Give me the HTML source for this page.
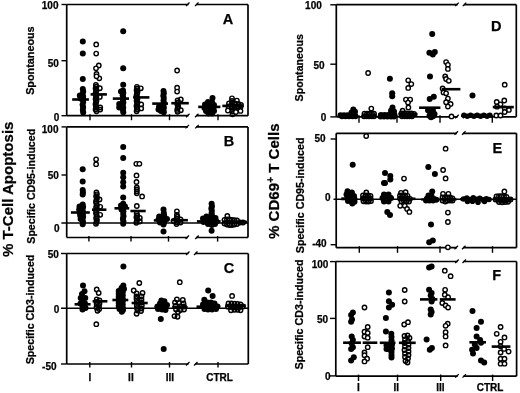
<!DOCTYPE html>
<html><head><meta charset="utf-8"><style>
html,body{margin:0;padding:0;background:#fff;}
svg{display:block;filter:grayscale(1) blur(0.3px);}
text{font-family:"Liberation Sans",sans-serif;fill:#000;stroke:#000;stroke-width:0.25px;}
</style></head><body>
<svg width="520" height="393" viewBox="0 0 520 393">
<rect width="520" height="393" fill="#fff"/>
<g stroke="#000" stroke-linecap="butt">
<line x1="66.7" y1="4.5" x2="66.7" y2="115.7" stroke-width="1.7"/>
<line x1="66.7" y1="4.5" x2="188.5" y2="4.5" stroke-width="1.7"/>
<line x1="196.0" y1="4.5" x2="248.0" y2="4.5" stroke-width="1.7"/>
<line x1="248.0" y1="4.5" x2="248.0" y2="115.7" stroke-width="1.7"/>
<line x1="66.7" y1="115.7" x2="188.5" y2="115.7" stroke-width="1.7"/>
<line x1="196.0" y1="115.7" x2="248.0" y2="115.7" stroke-width="1.7"/>
<line x1="186.0" y1="6.0" x2="189.5" y2="2.5" stroke-width="1.3"/>
<line x1="195.0" y1="6.0" x2="198.5" y2="2.5" stroke-width="1.3"/>
<line x1="186.0" y1="117.2" x2="189.5" y2="113.7" stroke-width="1.3"/>
<line x1="195.0" y1="117.2" x2="198.5" y2="113.7" stroke-width="1.3"/>
<line x1="61.5" y1="4.5" x2="66.7" y2="4.5" stroke-width="1.4"/>
<line x1="61.5" y1="60.7" x2="66.7" y2="60.7" stroke-width="1.4"/>
<line x1="61.5" y1="115.7" x2="66.7" y2="115.7" stroke-width="1.4"/>
<text x="58.5" y="9.3" font-size="10" font-weight="bold" text-anchor="end" >100</text>
<text x="58.8" y="66.5" font-size="10" font-weight="bold" text-anchor="end" >50</text>
<text x="59.2" y="120.5" font-size="10" font-weight="bold" text-anchor="end" >0</text>
<line x1="90" y1="114.2" x2="90" y2="120.2" stroke-width="1.4"/>
<line x1="131.5" y1="114.2" x2="131.5" y2="120.2" stroke-width="1.4"/>
<line x1="169.5" y1="114.2" x2="169.5" y2="120.2" stroke-width="1.4"/>
<line x1="218" y1="114.2" x2="218" y2="120.2" stroke-width="1.4"/>
<text x="228" y="24.2" font-size="14.5" font-weight="bold" text-anchor="middle" >A</text>
<text transform="translate(34.0,60.6) rotate(-90)" font-size="10.5" font-weight="bold" text-anchor="middle" textLength="68.5" lengthAdjust="spacingAndGlyphs">Spontaneous</text>
<circle cx="82.8" cy="41.4" r="3.0" fill="#000" stroke="none"/>
<circle cx="82.8" cy="53.6" r="3.0" fill="#000" stroke="none"/>
<circle cx="82.8" cy="79.0" r="3.0" fill="#000" stroke="none"/>
<circle cx="82.8" cy="89.0" r="3.0" fill="#000" stroke="none"/>
<circle cx="83.2" cy="91.61111111111111" r="3.0" fill="#000" stroke="none"/>
<circle cx="82.6" cy="94.22222222222223" r="3.0" fill="#000" stroke="none"/>
<circle cx="83.1" cy="96.83333333333333" r="3.0" fill="#000" stroke="none"/>
<circle cx="82.8" cy="99.44444444444444" r="3.0" fill="#000" stroke="none"/>
<circle cx="83.2" cy="102.05555555555556" r="3.0" fill="#000" stroke="none"/>
<circle cx="82.6" cy="104.66666666666667" r="3.0" fill="#000" stroke="none"/>
<circle cx="83.1" cy="107.27777777777777" r="3.0" fill="#000" stroke="none"/>
<circle cx="82.8" cy="109.88888888888889" r="3.0" fill="#000" stroke="none"/>
<circle cx="83.2" cy="112.5" r="3.0" fill="#000" stroke="none"/>
<circle cx="79.8" cy="95.4" r="3.0" fill="#000" stroke="none"/>
<circle cx="80.5" cy="98.5" r="3.0" fill="#000" stroke="none"/>
<line x1="72.2" y1="99.5" x2="88.9" y2="99.5" stroke-width="2.6"/>
<circle cx="96.2" cy="44.4" r="2.2" fill="#fff" stroke-width="1.4"/>
<circle cx="96.2" cy="53.6" r="2.2" fill="#fff" stroke-width="1.4"/>
<circle cx="98.8" cy="65.5" r="2.2" fill="#fff" stroke-width="1.4"/>
<circle cx="96.0" cy="68.3" r="2.2" fill="#fff" stroke-width="1.4"/>
<circle cx="96.5" cy="74" r="2.2" fill="#fff" stroke-width="1.4"/>
<circle cx="99.3" cy="78.3" r="2.2" fill="#fff" stroke-width="1.4"/>
<circle cx="96.5" cy="76.3" r="2.2" fill="#fff" stroke-width="1.4"/>
<circle cx="95.9" cy="85.0" r="2.2" fill="none" stroke-width="1.45"/>
<circle cx="96.4" cy="86.75333333333333" r="2.2" fill="none" stroke-width="1.45"/>
<circle cx="95.60000000000001" cy="88.50666666666666" r="2.2" fill="none" stroke-width="1.45"/>
<circle cx="96.5" cy="90.26" r="2.2" fill="none" stroke-width="1.45"/>
<circle cx="96.0" cy="92.01333333333334" r="2.2" fill="none" stroke-width="1.45"/>
<circle cx="95.5" cy="93.76666666666667" r="2.2" fill="none" stroke-width="1.45"/>
<circle cx="95.9" cy="95.52" r="2.2" fill="none" stroke-width="1.45"/>
<circle cx="96.4" cy="97.27333333333333" r="2.2" fill="none" stroke-width="1.45"/>
<circle cx="95.60000000000001" cy="99.02666666666667" r="2.2" fill="none" stroke-width="1.45"/>
<circle cx="96.5" cy="100.78" r="2.2" fill="none" stroke-width="1.45"/>
<circle cx="96.0" cy="102.53333333333333" r="2.2" fill="none" stroke-width="1.45"/>
<circle cx="95.5" cy="104.28666666666666" r="2.2" fill="none" stroke-width="1.45"/>
<circle cx="95.9" cy="106.03999999999999" r="2.2" fill="none" stroke-width="1.45"/>
<circle cx="96.4" cy="107.79333333333334" r="2.2" fill="none" stroke-width="1.45"/>
<circle cx="95.60000000000001" cy="109.54666666666667" r="2.2" fill="none" stroke-width="1.45"/>
<circle cx="96.5" cy="111.3" r="2.2" fill="none" stroke-width="1.45"/>
<circle cx="99.8" cy="88.2" r="2.2" fill="none" stroke-width="1.45"/>
<circle cx="99.8" cy="96.9" r="2.2" fill="none" stroke-width="1.45"/>
<circle cx="100.2" cy="107.4" r="2.2" fill="none" stroke-width="1.45"/>
<circle cx="100.2" cy="109.6" r="2.2" fill="none" stroke-width="1.45"/>
<line x1="90.6" y1="94.4" x2="106.9" y2="94.4" stroke-width="2.6"/>
<circle cx="123.2" cy="31.2" r="3.0" fill="#000" stroke="none"/>
<circle cx="123.2" cy="68.2" r="3.0" fill="#000" stroke="none"/>
<circle cx="123.2" cy="84.8" r="3.0" fill="#000" stroke="none"/>
<circle cx="123.0" cy="90.5" r="3.0" fill="#000" stroke="none"/>
<circle cx="123.3" cy="92.92222222222222" r="3.0" fill="#000" stroke="none"/>
<circle cx="122.7" cy="95.34444444444445" r="3.0" fill="#000" stroke="none"/>
<circle cx="123.2" cy="97.76666666666667" r="3.0" fill="#000" stroke="none"/>
<circle cx="123.0" cy="100.18888888888888" r="3.0" fill="#000" stroke="none"/>
<circle cx="123.3" cy="102.61111111111111" r="3.0" fill="#000" stroke="none"/>
<circle cx="122.7" cy="105.03333333333333" r="3.0" fill="#000" stroke="none"/>
<circle cx="123.2" cy="107.45555555555555" r="3.0" fill="#000" stroke="none"/>
<circle cx="123.0" cy="109.87777777777778" r="3.0" fill="#000" stroke="none"/>
<circle cx="123.3" cy="112.3" r="3.0" fill="#000" stroke="none"/>
<circle cx="121" cy="91.5" r="3.0" fill="#000" stroke="none"/>
<circle cx="119.2" cy="104" r="3.0" fill="#000" stroke="none"/>
<circle cx="119.2" cy="107.5" r="3.0" fill="#000" stroke="none"/>
<line x1="112.8" y1="98.6" x2="129.0" y2="98.6" stroke-width="2.6"/>
<circle cx="136.9" cy="86.8" r="2.2" fill="none" stroke-width="1.45"/>
<circle cx="137.4" cy="88.54285714285714" r="2.2" fill="none" stroke-width="1.45"/>
<circle cx="136.6" cy="90.28571428571428" r="2.2" fill="none" stroke-width="1.45"/>
<circle cx="137.5" cy="92.02857142857142" r="2.2" fill="none" stroke-width="1.45"/>
<circle cx="137.0" cy="93.77142857142857" r="2.2" fill="none" stroke-width="1.45"/>
<circle cx="136.5" cy="95.51428571428572" r="2.2" fill="none" stroke-width="1.45"/>
<circle cx="136.9" cy="97.25714285714285" r="2.2" fill="none" stroke-width="1.45"/>
<circle cx="137.4" cy="99.0" r="2.2" fill="none" stroke-width="1.45"/>
<circle cx="136.6" cy="100.74285714285715" r="2.2" fill="none" stroke-width="1.45"/>
<circle cx="137.5" cy="102.48571428571428" r="2.2" fill="none" stroke-width="1.45"/>
<circle cx="137.0" cy="104.22857142857143" r="2.2" fill="none" stroke-width="1.45"/>
<circle cx="136.5" cy="105.97142857142858" r="2.2" fill="none" stroke-width="1.45"/>
<circle cx="136.9" cy="107.71428571428572" r="2.2" fill="none" stroke-width="1.45"/>
<circle cx="137.4" cy="109.45714285714286" r="2.2" fill="none" stroke-width="1.45"/>
<circle cx="136.6" cy="111.2" r="2.2" fill="none" stroke-width="1.45"/>
<circle cx="140.8" cy="88.3" r="2.2" fill="none" stroke-width="1.45"/>
<circle cx="141.2" cy="104.4" r="2.2" fill="none" stroke-width="1.45"/>
<circle cx="141.2" cy="108.4" r="2.2" fill="none" stroke-width="1.45"/>
<line x1="133.1" y1="97.4" x2="149.4" y2="97.4" stroke-width="2.6"/>
<circle cx="163.5" cy="91.0" r="3.0" fill="#000" stroke="none"/>
<circle cx="163.8" cy="93.36666666666666" r="3.0" fill="#000" stroke="none"/>
<circle cx="163.3" cy="95.73333333333333" r="3.0" fill="#000" stroke="none"/>
<circle cx="163.8" cy="98.1" r="3.0" fill="#000" stroke="none"/>
<circle cx="163.5" cy="100.46666666666667" r="3.0" fill="#000" stroke="none"/>
<circle cx="163.8" cy="102.83333333333333" r="3.0" fill="#000" stroke="none"/>
<circle cx="163.3" cy="105.2" r="3.0" fill="#000" stroke="none"/>
<circle cx="163.8" cy="107.56666666666666" r="3.0" fill="#000" stroke="none"/>
<circle cx="163.5" cy="109.93333333333334" r="3.0" fill="#000" stroke="none"/>
<circle cx="163.8" cy="112.3" r="3.0" fill="#000" stroke="none"/>
<circle cx="158.5" cy="109.5" r="3.0" fill="#000" stroke="none"/>
<circle cx="159" cy="106.8" r="3.0" fill="#000" stroke="none"/>
<circle cx="161" cy="111" r="3.0" fill="#000" stroke="none"/>
<line x1="152.2" y1="103.6" x2="168.0" y2="103.6" stroke-width="2.6"/>
<circle cx="177.1" cy="70.5" r="2.2" fill="#fff" stroke-width="1.4"/>
<circle cx="177.1" cy="87.7" r="2.2" fill="#fff" stroke-width="1.4"/>
<circle cx="177.1" cy="91.6" r="2.2" fill="#fff" stroke-width="1.4"/>
<circle cx="177.6" cy="100.5" r="2.2" fill="none" stroke-width="1.45"/>
<circle cx="178.1" cy="102.38333333333333" r="2.2" fill="none" stroke-width="1.45"/>
<circle cx="177.29999999999998" cy="104.26666666666667" r="2.2" fill="none" stroke-width="1.45"/>
<circle cx="178.2" cy="106.15" r="2.2" fill="none" stroke-width="1.45"/>
<circle cx="177.7" cy="108.03333333333333" r="2.2" fill="none" stroke-width="1.45"/>
<circle cx="177.2" cy="109.91666666666666" r="2.2" fill="none" stroke-width="1.45"/>
<circle cx="177.6" cy="111.8" r="2.2" fill="none" stroke-width="1.45"/>
<circle cx="180.8" cy="99.5" r="2.2" fill="none" stroke-width="1.45"/>
<circle cx="180.8" cy="110.2" r="2.2" fill="none" stroke-width="1.45"/>
<line x1="171.3" y1="103.2" x2="188.8" y2="103.2" stroke-width="2.6"/>
<circle cx="212.5" cy="98.0" r="3.0" fill="#000" stroke="none"/>
<circle cx="208" cy="102" r="3.0" fill="#000" stroke="none"/>
<circle cx="212" cy="102" r="3.0" fill="#000" stroke="none"/>
<circle cx="205" cy="104.5" r="3.0" fill="#000" stroke="none"/>
<circle cx="209" cy="105" r="3.0" fill="#000" stroke="none"/>
<circle cx="214" cy="105" r="3.0" fill="#000" stroke="none"/>
<circle cx="204.5" cy="108" r="3.0" fill="#000" stroke="none"/>
<circle cx="209" cy="108" r="3.0" fill="#000" stroke="none"/>
<circle cx="213.5" cy="108" r="3.0" fill="#000" stroke="none"/>
<circle cx="206" cy="111" r="3.0" fill="#000" stroke="none"/>
<circle cx="210" cy="111" r="3.0" fill="#000" stroke="none"/>
<circle cx="214" cy="111" r="3.0" fill="#000" stroke="none"/>
<circle cx="208.5" cy="113.5" r="3.0" fill="#000" stroke="none"/>
<circle cx="212" cy="113.5" r="3.0" fill="#000" stroke="none"/>
<line x1="198.2" y1="106.9" x2="220.4" y2="106.9" stroke-width="2.6"/>
<circle cx="236.9" cy="100.6" r="2.2" fill="#fff" stroke-width="1.4"/>
<circle cx="232" cy="98.3" r="2.2" fill="none" stroke-width="1.45"/>
<circle cx="232" cy="101" r="2.2" fill="none" stroke-width="1.45"/>
<circle cx="229" cy="103.5" r="2.2" fill="none" stroke-width="1.45"/>
<circle cx="232" cy="103.5" r="2.2" fill="none" stroke-width="1.45"/>
<circle cx="235" cy="103.5" r="2.2" fill="none" stroke-width="1.45"/>
<circle cx="238.5" cy="104" r="2.2" fill="none" stroke-width="1.45"/>
<circle cx="241" cy="105" r="2.2" fill="none" stroke-width="1.45"/>
<circle cx="228.5" cy="106.5" r="2.2" fill="none" stroke-width="1.45"/>
<circle cx="231.5" cy="106.5" r="2.2" fill="none" stroke-width="1.45"/>
<circle cx="234.5" cy="106.5" r="2.2" fill="none" stroke-width="1.45"/>
<circle cx="237.5" cy="106.5" r="2.2" fill="none" stroke-width="1.45"/>
<circle cx="240.5" cy="107" r="2.2" fill="none" stroke-width="1.45"/>
<circle cx="232" cy="109" r="2.2" fill="none" stroke-width="1.45"/>
<circle cx="235" cy="109" r="2.2" fill="none" stroke-width="1.45"/>
<circle cx="232.5" cy="111.5" r="2.2" fill="none" stroke-width="1.45"/>
<circle cx="232.5" cy="114.2" r="2.2" fill="none" stroke-width="1.45"/>
<circle cx="227.9" cy="110.5" r="2.2" fill="#fff" stroke-width="1.4"/>
<circle cx="240.5" cy="110.9" r="2.2" fill="#fff" stroke-width="1.4"/>
<circle cx="235.9" cy="112.0" r="2.2" fill="#fff" stroke-width="1.4"/>
<line x1="222.3" y1="105.9" x2="243.5" y2="105.9" stroke-width="2.6"/>
<line x1="66.7" y1="126.9" x2="66.7" y2="237.5" stroke-width="1.7"/>
<line x1="66.7" y1="126.9" x2="188.0" y2="126.9" stroke-width="1.7"/>
<line x1="196.2" y1="126.9" x2="248.0" y2="126.9" stroke-width="1.7"/>
<line x1="248.0" y1="126.9" x2="248.0" y2="237.5" stroke-width="1.7"/>
<line x1="66.7" y1="237.5" x2="188.0" y2="237.5" stroke-width="1.7"/>
<line x1="196.2" y1="237.5" x2="248.0" y2="237.5" stroke-width="1.7"/>
<line x1="185.5" y1="128.4" x2="189.0" y2="124.9" stroke-width="1.3"/>
<line x1="195.2" y1="128.4" x2="198.7" y2="124.9" stroke-width="1.3"/>
<line x1="185.5" y1="239.0" x2="189.0" y2="235.5" stroke-width="1.3"/>
<line x1="195.2" y1="239.0" x2="198.7" y2="235.5" stroke-width="1.3"/>
<line x1="61.4" y1="223.0" x2="248.0" y2="223.0" stroke-width="1.4"/>
<line x1="61.5" y1="126.9" x2="66.7" y2="126.9" stroke-width="1.4"/>
<line x1="61.5" y1="175.0" x2="66.7" y2="175.0" stroke-width="1.4"/>
<text x="58.5" y="132.7" font-size="10" font-weight="bold" text-anchor="end" >100</text>
<text x="58.8" y="179.0" font-size="10" font-weight="bold" text-anchor="end" >50</text>
<text x="59.5" y="231.9" font-size="10" font-weight="bold" text-anchor="end" >0</text>
<line x1="88.9" y1="236.0" x2="88.9" y2="241.6" stroke-width="1.4"/>
<line x1="131" y1="236.0" x2="131" y2="241.6" stroke-width="1.4"/>
<line x1="168.5" y1="236.0" x2="168.5" y2="241.6" stroke-width="1.4"/>
<line x1="217.6" y1="236.0" x2="217.6" y2="241.6" stroke-width="1.4"/>
<text x="228.9" y="145.8" font-size="14.5" font-weight="bold" text-anchor="middle" >B</text>
<text transform="translate(34.5,186.3) rotate(-90)" font-size="10.5" font-weight="bold" text-anchor="middle" textLength="114.8" lengthAdjust="spacingAndGlyphs">Specific CD95-induced</text>
<circle cx="82.7" cy="169.3" r="3.0" fill="#000" stroke="none"/>
<circle cx="82.7" cy="181.6" r="3.0" fill="#000" stroke="none"/>
<circle cx="82.7" cy="190.0" r="3.0" fill="#000" stroke="none"/>
<circle cx="82.7" cy="194.5" r="3.0" fill="#000" stroke="none"/>
<circle cx="82.9" cy="192.2" r="3.0" fill="#000" stroke="none"/>
<circle cx="82.7" cy="204.5" r="3.0" fill="#000" stroke="none"/>
<circle cx="83.10000000000001" cy="206.9625" r="3.0" fill="#000" stroke="none"/>
<circle cx="82.4" cy="209.425" r="3.0" fill="#000" stroke="none"/>
<circle cx="83.0" cy="211.8875" r="3.0" fill="#000" stroke="none"/>
<circle cx="82.7" cy="214.35" r="3.0" fill="#000" stroke="none"/>
<circle cx="83.10000000000001" cy="216.8125" r="3.0" fill="#000" stroke="none"/>
<circle cx="82.4" cy="219.27499999999998" r="3.0" fill="#000" stroke="none"/>
<circle cx="83.0" cy="221.73749999999998" r="3.0" fill="#000" stroke="none"/>
<circle cx="82.7" cy="224.2" r="3.0" fill="#000" stroke="none"/>
<circle cx="79.5" cy="206.5" r="3.0" fill="#000" stroke="none"/>
<circle cx="79.2" cy="209.5" r="3.0" fill="#000" stroke="none"/>
<circle cx="79.6" cy="212.5" r="3.0" fill="#000" stroke="none"/>
<circle cx="80.2" cy="215.5" r="3.0" fill="#000" stroke="none"/>
<circle cx="80.6" cy="219" r="3.0" fill="#000" stroke="none"/>
<line x1="70.9" y1="212.5" x2="89.8" y2="212.5" stroke-width="2.6"/>
<circle cx="96.1" cy="159.3" r="2.2" fill="#fff" stroke-width="1.4"/>
<circle cx="96.1" cy="164.2" r="2.2" fill="#fff" stroke-width="1.4"/>
<circle cx="96.4" cy="192.5" r="2.2" fill="none" stroke-width="1.45"/>
<circle cx="96.9" cy="194.34117647058824" r="2.2" fill="none" stroke-width="1.45"/>
<circle cx="96.10000000000001" cy="196.18235294117648" r="2.2" fill="none" stroke-width="1.45"/>
<circle cx="97.0" cy="198.0235294117647" r="2.2" fill="none" stroke-width="1.45"/>
<circle cx="96.5" cy="199.86470588235295" r="2.2" fill="none" stroke-width="1.45"/>
<circle cx="96.0" cy="201.7058823529412" r="2.2" fill="none" stroke-width="1.45"/>
<circle cx="96.4" cy="203.54705882352943" r="2.2" fill="none" stroke-width="1.45"/>
<circle cx="96.9" cy="205.38823529411766" r="2.2" fill="none" stroke-width="1.45"/>
<circle cx="96.10000000000001" cy="207.2294117647059" r="2.2" fill="none" stroke-width="1.45"/>
<circle cx="97.0" cy="209.0705882352941" r="2.2" fill="none" stroke-width="1.45"/>
<circle cx="96.5" cy="210.91176470588235" r="2.2" fill="none" stroke-width="1.45"/>
<circle cx="96.0" cy="212.75294117647059" r="2.2" fill="none" stroke-width="1.45"/>
<circle cx="96.4" cy="214.59411764705882" r="2.2" fill="none" stroke-width="1.45"/>
<circle cx="96.9" cy="216.43529411764706" r="2.2" fill="none" stroke-width="1.45"/>
<circle cx="96.10000000000001" cy="218.2764705882353" r="2.2" fill="none" stroke-width="1.45"/>
<circle cx="97.0" cy="220.11764705882354" r="2.2" fill="none" stroke-width="1.45"/>
<circle cx="96.5" cy="221.95882352941177" r="2.2" fill="none" stroke-width="1.45"/>
<circle cx="96.0" cy="223.8" r="2.2" fill="none" stroke-width="1.45"/>
<circle cx="99.5" cy="199.5" r="2.2" fill="none" stroke-width="1.45"/>
<circle cx="100.2" cy="206.8" r="2.2" fill="none" stroke-width="1.45"/>
<circle cx="100.2" cy="214.8" r="2.2" fill="none" stroke-width="1.45"/>
<line x1="92.0" y1="209.7" x2="106.4" y2="209.7" stroke-width="2.6"/>
<circle cx="123.2" cy="146.9" r="3.0" fill="#000" stroke="none"/>
<circle cx="123.2" cy="158.1" r="3.0" fill="#000" stroke="none"/>
<circle cx="123.2" cy="172.7" r="3.0" fill="#000" stroke="none"/>
<circle cx="123.2" cy="177.2" r="3.0" fill="#000" stroke="none"/>
<circle cx="123.2" cy="182.3" r="3.0" fill="#000" stroke="none"/>
<circle cx="123.2" cy="186.6" r="3.0" fill="#000" stroke="none"/>
<circle cx="123.2" cy="197.5" r="3.0" fill="#000" stroke="none"/>
<circle cx="123.2" cy="203.8" r="3.0" fill="#000" stroke="none"/>
<circle cx="123.5" cy="206.3" r="3.0" fill="#000" stroke="none"/>
<circle cx="122.9" cy="208.8" r="3.0" fill="#000" stroke="none"/>
<circle cx="123.4" cy="211.3" r="3.0" fill="#000" stroke="none"/>
<circle cx="123.2" cy="213.8" r="3.0" fill="#000" stroke="none"/>
<circle cx="123.5" cy="216.3" r="3.0" fill="#000" stroke="none"/>
<circle cx="122.9" cy="218.8" r="3.0" fill="#000" stroke="none"/>
<circle cx="123.4" cy="221.3" r="3.0" fill="#000" stroke="none"/>
<circle cx="123.2" cy="223.8" r="3.0" fill="#000" stroke="none"/>
<circle cx="121" cy="205.5" r="3.0" fill="#000" stroke="none"/>
<circle cx="125" cy="206.5" r="3.0" fill="#000" stroke="none"/>
<circle cx="121.5" cy="209.5" r="3.0" fill="#000" stroke="none"/>
<line x1="114.5" y1="208.3" x2="129.2" y2="208.3" stroke-width="2.6"/>
<circle cx="136.3" cy="163.8" r="2.2" fill="#fff" stroke-width="1.4"/>
<circle cx="139.4" cy="163.8" r="2.2" fill="#fff" stroke-width="1.4"/>
<circle cx="136.5" cy="175.4" r="2.2" fill="#fff" stroke-width="1.4"/>
<circle cx="136.5" cy="182.0" r="2.2" fill="#fff" stroke-width="1.4"/>
<circle cx="136.8" cy="187.5" r="2.2" fill="none" stroke-width="1.45"/>
<circle cx="136.8" cy="189.43333333333334" r="2.2" fill="none" stroke-width="1.45"/>
<circle cx="136.8" cy="191.36666666666667" r="2.2" fill="none" stroke-width="1.45"/>
<circle cx="136.8" cy="193.3" r="2.2" fill="none" stroke-width="1.45"/>
<circle cx="142.1" cy="196.4" r="2.2" fill="#fff" stroke-width="1.4"/>
<circle cx="136.8" cy="206.0" r="2.2" fill="#fff" stroke-width="1.4"/>
<circle cx="136.7" cy="213.5" r="2.2" fill="none" stroke-width="1.45"/>
<circle cx="137.2" cy="215.36" r="2.2" fill="none" stroke-width="1.45"/>
<circle cx="136.39999999999998" cy="217.22" r="2.2" fill="none" stroke-width="1.45"/>
<circle cx="137.29999999999998" cy="219.08" r="2.2" fill="none" stroke-width="1.45"/>
<circle cx="136.79999999999998" cy="220.94" r="2.2" fill="none" stroke-width="1.45"/>
<circle cx="136.29999999999998" cy="222.8" r="2.2" fill="none" stroke-width="1.45"/>
<circle cx="139.8" cy="218.0" r="2.2" fill="none" stroke-width="1.45"/>
<circle cx="139.8" cy="221.5" r="2.2" fill="none" stroke-width="1.45"/>
<line x1="130.4" y1="211.0" x2="145.7" y2="211.0" stroke-width="2.6"/>
<circle cx="163.5" cy="209.6" r="3.0" fill="#000" stroke="none"/>
<circle cx="163.8" cy="213.0" r="3.0" fill="#000" stroke="none"/>
<circle cx="164.10000000000002" cy="215.3" r="3.0" fill="#000" stroke="none"/>
<circle cx="163.5" cy="217.6" r="3.0" fill="#000" stroke="none"/>
<circle cx="163.8" cy="219.9" r="3.0" fill="#000" stroke="none"/>
<circle cx="164.10000000000002" cy="222.2" r="3.0" fill="#000" stroke="none"/>
<circle cx="163.5" cy="224.5" r="3.0" fill="#000" stroke="none"/>
<circle cx="159.2" cy="216.5" r="3.0" fill="#000" stroke="none"/>
<circle cx="158.5" cy="219.5" r="3.0" fill="#000" stroke="none"/>
<circle cx="160" cy="222.5" r="3.0" fill="#000" stroke="none"/>
<circle cx="167" cy="219" r="3.0" fill="#000" stroke="none"/>
<circle cx="163.5" cy="231.6" r="3.0" fill="#000" stroke="none"/>
<line x1="153.8" y1="220.4" x2="167.5" y2="220.4" stroke-width="2.6"/>
<circle cx="176.9" cy="211.3" r="2.2" fill="#fff" stroke-width="1.4"/>
<circle cx="176.9" cy="214.8" r="2.2" fill="none" stroke-width="1.45"/>
<circle cx="177.4" cy="216.64000000000001" r="2.2" fill="none" stroke-width="1.45"/>
<circle cx="176.6" cy="218.48000000000002" r="2.2" fill="none" stroke-width="1.45"/>
<circle cx="177.5" cy="220.32" r="2.2" fill="none" stroke-width="1.45"/>
<circle cx="177.0" cy="222.16" r="2.2" fill="none" stroke-width="1.45"/>
<circle cx="176.5" cy="224.0" r="2.2" fill="none" stroke-width="1.45"/>
<circle cx="173.5" cy="221.0" r="2.2" fill="none" stroke-width="1.45"/>
<circle cx="180.5" cy="219.5" r="2.2" fill="none" stroke-width="1.45"/>
<circle cx="180.5" cy="222.5" r="2.2" fill="none" stroke-width="1.45"/>
<line x1="171.3" y1="220.2" x2="187.9" y2="220.2" stroke-width="2.6"/>
<circle cx="211.6" cy="203.8" r="3.0" fill="#000" stroke="none"/>
<circle cx="211.9" cy="206.15555555555557" r="3.0" fill="#000" stroke="none"/>
<circle cx="211.29999999999998" cy="208.51111111111112" r="3.0" fill="#000" stroke="none"/>
<circle cx="211.79999999999998" cy="210.86666666666667" r="3.0" fill="#000" stroke="none"/>
<circle cx="211.6" cy="213.22222222222223" r="3.0" fill="#000" stroke="none"/>
<circle cx="211.9" cy="215.57777777777778" r="3.0" fill="#000" stroke="none"/>
<circle cx="211.29999999999998" cy="217.93333333333334" r="3.0" fill="#000" stroke="none"/>
<circle cx="211.79999999999998" cy="220.2888888888889" r="3.0" fill="#000" stroke="none"/>
<circle cx="211.6" cy="222.64444444444445" r="3.0" fill="#000" stroke="none"/>
<circle cx="211.9" cy="225.0" r="3.0" fill="#000" stroke="none"/>
<circle cx="203" cy="218.5" r="3.0" fill="#000" stroke="none"/>
<circle cx="206.5" cy="216.5" r="3.0" fill="#000" stroke="none"/>
<circle cx="207" cy="220.5" r="3.0" fill="#000" stroke="none"/>
<circle cx="203.5" cy="222" r="3.0" fill="#000" stroke="none"/>
<circle cx="208" cy="224" r="3.0" fill="#000" stroke="none"/>
<circle cx="215.5" cy="218" r="3.0" fill="#000" stroke="none"/>
<circle cx="216.5" cy="221.5" r="3.0" fill="#000" stroke="none"/>
<circle cx="215" cy="224" r="3.0" fill="#000" stroke="none"/>
<circle cx="211.6" cy="230.8" r="3.0" fill="#000" stroke="none"/>
<line x1="196.9" y1="221.4" x2="220.6" y2="221.4" stroke-width="2.6"/>
<circle cx="227.3" cy="216.0" r="2.2" fill="#fff" stroke-width="1.4"/>
<circle cx="224.5" cy="220" r="2.2" fill="none" stroke-width="1.45"/>
<circle cx="227" cy="219.5" r="2.2" fill="none" stroke-width="1.45"/>
<circle cx="229.5" cy="219.5" r="2.2" fill="none" stroke-width="1.45"/>
<circle cx="232" cy="219.8" r="2.2" fill="none" stroke-width="1.45"/>
<circle cx="234.5" cy="220.2" r="2.2" fill="none" stroke-width="1.45"/>
<circle cx="237" cy="220.5" r="2.2" fill="none" stroke-width="1.45"/>
<circle cx="224.5" cy="223.5" r="2.2" fill="none" stroke-width="1.45"/>
<circle cx="227" cy="224.5" r="2.2" fill="none" stroke-width="1.45"/>
<circle cx="229.5" cy="225" r="2.2" fill="none" stroke-width="1.45"/>
<circle cx="232" cy="225" r="2.2" fill="none" stroke-width="1.45"/>
<circle cx="234.5" cy="224.5" r="2.2" fill="none" stroke-width="1.45"/>
<circle cx="237" cy="224" r="2.2" fill="none" stroke-width="1.45"/>
<circle cx="240" cy="222.5" r="2.2" fill="none" stroke-width="1.45"/>
<circle cx="243" cy="222.5" r="2.2" fill="none" stroke-width="1.45"/>
<line x1="222.2" y1="222.0" x2="246.9" y2="222.0" stroke-width="3.0"/>
<line x1="66.7" y1="253.5" x2="66.7" y2="364.0" stroke-width="1.7"/>
<line x1="66.7" y1="253.5" x2="188.5" y2="253.5" stroke-width="1.7"/>
<line x1="195.0" y1="253.5" x2="248.3" y2="253.5" stroke-width="1.7"/>
<line x1="248.3" y1="253.5" x2="248.3" y2="364.0" stroke-width="1.7"/>
<line x1="66.7" y1="364.0" x2="188.5" y2="364.0" stroke-width="1.7"/>
<line x1="195.0" y1="364.0" x2="248.3" y2="364.0" stroke-width="1.7"/>
<line x1="186.0" y1="255.0" x2="189.5" y2="251.5" stroke-width="1.3"/>
<line x1="194.0" y1="255.0" x2="197.5" y2="251.5" stroke-width="1.3"/>
<line x1="186.0" y1="365.5" x2="189.5" y2="362.0" stroke-width="1.3"/>
<line x1="194.0" y1="365.5" x2="197.5" y2="362.0" stroke-width="1.3"/>
<line x1="61.0" y1="308.3" x2="248.3" y2="308.3" stroke-width="1.4"/>
<line x1="61.0" y1="253.5" x2="66.7" y2="253.5" stroke-width="1.4"/>
<line x1="61.0" y1="364.0" x2="66.7" y2="364.0" stroke-width="1.4"/>
<text x="58.8" y="257.7" font-size="10" font-weight="bold" text-anchor="end" >50</text>
<text x="59.3" y="312.5" font-size="10" font-weight="bold" text-anchor="end" >0</text>
<text x="56.5" y="370.0" font-size="10" font-weight="bold" text-anchor="end" >-50</text>
<line x1="89.8" y1="362.0" x2="89.8" y2="367.5" stroke-width="1.4"/>
<line x1="131.5" y1="362.0" x2="131.5" y2="367.5" stroke-width="1.4"/>
<line x1="169.5" y1="362.0" x2="169.5" y2="367.5" stroke-width="1.4"/>
<line x1="218" y1="362.0" x2="218" y2="367.5" stroke-width="1.4"/>
<text x="89.8" y="380.6" font-size="10" font-weight="bold" text-anchor="middle" >I</text>
<text x="130.9" y="380.6" font-size="10" font-weight="bold" text-anchor="middle" >II</text>
<text x="169.8" y="380.6" font-size="10" font-weight="bold" text-anchor="middle" >III</text>
<text x="219.5" y="380.6" font-size="10" font-weight="bold" text-anchor="middle" >CTRL</text>
<text x="229" y="273.2" font-size="14.5" font-weight="bold" text-anchor="middle" >C</text>
<text transform="translate(34.3,309.5) rotate(-90)" font-size="10.5" font-weight="bold" text-anchor="middle" textLength="109.7" lengthAdjust="spacingAndGlyphs">Specific CD3-induced</text>
<circle cx="83" cy="285.4" r="3.0" fill="#000" stroke="none"/>
<circle cx="84.5" cy="291.2" r="3.0" fill="#000" stroke="none"/>
<circle cx="82" cy="294" r="3.0" fill="#000" stroke="none"/>
<circle cx="80.7" cy="297.9" r="3.0" fill="#000" stroke="none"/>
<circle cx="85.3" cy="297.9" r="3.0" fill="#000" stroke="none"/>
<circle cx="82.5" cy="301" r="3.0" fill="#000" stroke="none"/>
<circle cx="80.5" cy="303.5" r="3.0" fill="#000" stroke="none"/>
<circle cx="85" cy="303.5" r="3.0" fill="#000" stroke="none"/>
<circle cx="82.5" cy="306" r="3.0" fill="#000" stroke="none"/>
<circle cx="82.5" cy="309.5" r="3.0" fill="#000" stroke="none"/>
<circle cx="85.5" cy="308" r="3.0" fill="#000" stroke="none"/>
<line x1="74.6" y1="304.3" x2="90.6" y2="304.3" stroke-width="2.6"/>
<circle cx="96.7" cy="289.5" r="2.2" fill="#fff" stroke-width="1.4"/>
<circle cx="98.7" cy="293" r="2.2" fill="#fff" stroke-width="1.4"/>
<circle cx="96.3" cy="324.2" r="2.2" fill="#fff" stroke-width="1.4"/>
<circle cx="96.7" cy="299.4" r="2.2" fill="none" stroke-width="1.45"/>
<circle cx="99.5" cy="300.5" r="2.2" fill="none" stroke-width="1.45"/>
<circle cx="96.5" cy="302" r="2.2" fill="none" stroke-width="1.45"/>
<circle cx="99.5" cy="303.5" r="2.2" fill="none" stroke-width="1.45"/>
<circle cx="96.7" cy="304.5" r="2.2" fill="none" stroke-width="1.45"/>
<circle cx="99" cy="306" r="2.2" fill="none" stroke-width="1.45"/>
<circle cx="96.5" cy="307.5" r="2.2" fill="none" stroke-width="1.45"/>
<circle cx="99.2" cy="309" r="2.2" fill="none" stroke-width="1.45"/>
<circle cx="97.5" cy="310.8" r="2.2" fill="none" stroke-width="1.45"/>
<line x1="92.6" y1="301.3" x2="107.4" y2="301.3" stroke-width="2.6"/>
<circle cx="123.4" cy="266.5" r="3.0" fill="#000" stroke="none"/>
<circle cx="123.3" cy="285.5" r="3.0" fill="#000" stroke="none"/>
<circle cx="121.5" cy="288" r="3.0" fill="#000" stroke="none"/>
<circle cx="124" cy="289" r="3.0" fill="#000" stroke="none"/>
<circle cx="118.7" cy="291" r="3.0" fill="#000" stroke="none"/>
<circle cx="122.7" cy="292.2" r="3.0" fill="#000" stroke="none"/>
<circle cx="118.7" cy="294" r="3.0" fill="#000" stroke="none"/>
<circle cx="122.7" cy="295.2" r="3.0" fill="#000" stroke="none"/>
<circle cx="118.7" cy="297" r="3.0" fill="#000" stroke="none"/>
<circle cx="122.7" cy="298.2" r="3.0" fill="#000" stroke="none"/>
<circle cx="118.7" cy="300" r="3.0" fill="#000" stroke="none"/>
<circle cx="122.7" cy="301.2" r="3.0" fill="#000" stroke="none"/>
<circle cx="118.7" cy="303" r="3.0" fill="#000" stroke="none"/>
<circle cx="122.7" cy="304.2" r="3.0" fill="#000" stroke="none"/>
<circle cx="118.7" cy="306" r="3.0" fill="#000" stroke="none"/>
<circle cx="122.7" cy="307.2" r="3.0" fill="#000" stroke="none"/>
<circle cx="119.5" cy="309" r="3.0" fill="#000" stroke="none"/>
<circle cx="123" cy="310" r="3.0" fill="#000" stroke="none"/>
<circle cx="121.8" cy="311.8" r="3.0" fill="#000" stroke="none"/>
<line x1="112.4" y1="300.0" x2="128.3" y2="300.0" stroke-width="2.6"/>
<circle cx="139.3" cy="283.0" r="2.2" fill="#fff" stroke-width="1.4"/>
<circle cx="133.7" cy="290.5" r="2.2" fill="#fff" stroke-width="1.4"/>
<circle cx="136.6" cy="293.5" r="2.2" fill="none" stroke-width="1.45"/>
<circle cx="142.5" cy="292.9" r="2.2" fill="none" stroke-width="1.45"/>
<circle cx="136.5" cy="296.5" r="2.2" fill="none" stroke-width="1.45"/>
<circle cx="141.5" cy="296.5" r="2.2" fill="none" stroke-width="1.45"/>
<circle cx="136.5" cy="299" r="2.2" fill="none" stroke-width="1.45"/>
<circle cx="141.5" cy="299.5" r="2.2" fill="none" stroke-width="1.45"/>
<circle cx="136.8" cy="302" r="2.2" fill="none" stroke-width="1.45"/>
<circle cx="141.5" cy="302.5" r="2.2" fill="none" stroke-width="1.45"/>
<circle cx="136.8" cy="305" r="2.2" fill="none" stroke-width="1.45"/>
<circle cx="141.8" cy="305.5" r="2.2" fill="none" stroke-width="1.45"/>
<circle cx="137" cy="308" r="2.2" fill="none" stroke-width="1.45"/>
<circle cx="141.5" cy="308.5" r="2.2" fill="none" stroke-width="1.45"/>
<circle cx="137.5" cy="310.5" r="2.2" fill="none" stroke-width="1.45"/>
<circle cx="141" cy="311" r="2.2" fill="none" stroke-width="1.45"/>
<circle cx="136.6" cy="313.8" r="2.2" fill="none" stroke-width="1.45"/>
<line x1="131.6" y1="303.0" x2="147.7" y2="303.0" stroke-width="2.6"/>
<circle cx="161.4" cy="300.5" r="3.0" fill="#000" stroke="none"/>
<circle cx="164.4" cy="301.2" r="3.0" fill="#000" stroke="none"/>
<circle cx="160" cy="303.5" r="3.0" fill="#000" stroke="none"/>
<circle cx="164.5" cy="304" r="3.0" fill="#000" stroke="none"/>
<circle cx="167" cy="305" r="3.0" fill="#000" stroke="none"/>
<circle cx="157.5" cy="306.5" r="3.0" fill="#000" stroke="none"/>
<circle cx="161.5" cy="306.5" r="3.0" fill="#000" stroke="none"/>
<circle cx="165" cy="307.5" r="3.0" fill="#000" stroke="none"/>
<circle cx="158" cy="309" r="3.0" fill="#000" stroke="none"/>
<circle cx="162" cy="309.5" r="3.0" fill="#000" stroke="none"/>
<circle cx="165.5" cy="310" r="3.0" fill="#000" stroke="none"/>
<circle cx="160.8" cy="319.1" r="3.0" fill="#000" stroke="none"/>
<circle cx="163.7" cy="348.9" r="3.0" fill="#000" stroke="none"/>
<line x1="154.6" y1="306.8" x2="168.5" y2="306.8" stroke-width="2.6"/>
<circle cx="179.8" cy="282.2" r="2.2" fill="#fff" stroke-width="1.4"/>
<circle cx="176.9" cy="299.5" r="2.2" fill="none" stroke-width="1.45"/>
<circle cx="182.8" cy="300.0" r="2.2" fill="none" stroke-width="1.45"/>
<circle cx="175" cy="302.5" r="2.2" fill="none" stroke-width="1.45"/>
<circle cx="179" cy="303" r="2.2" fill="none" stroke-width="1.45"/>
<circle cx="183.5" cy="303.5" r="2.2" fill="none" stroke-width="1.45"/>
<circle cx="175.5" cy="306" r="2.2" fill="none" stroke-width="1.45"/>
<circle cx="179.5" cy="306.5" r="2.2" fill="none" stroke-width="1.45"/>
<circle cx="184" cy="306.5" r="2.2" fill="none" stroke-width="1.45"/>
<circle cx="176" cy="309.5" r="2.2" fill="none" stroke-width="1.45"/>
<circle cx="180.5" cy="310" r="2.2" fill="none" stroke-width="1.45"/>
<circle cx="184" cy="309.5" r="2.2" fill="none" stroke-width="1.45"/>
<circle cx="178" cy="312" r="2.2" fill="none" stroke-width="1.45"/>
<circle cx="174.5" cy="316.1" r="2.2" fill="none" stroke-width="1.45"/>
<circle cx="177.5" cy="316.7" r="2.2" fill="none" stroke-width="1.45"/>
<line x1="172.2" y1="307.2" x2="187.6" y2="307.2" stroke-width="2.6"/>
<circle cx="208.2" cy="290.4" r="3.0" fill="#000" stroke="none"/>
<circle cx="212.6" cy="295.9" r="3.0" fill="#000" stroke="none"/>
<circle cx="204.3" cy="299.8" r="3.0" fill="#000" stroke="none"/>
<circle cx="207.5" cy="302.5" r="3.0" fill="#000" stroke="none"/>
<circle cx="211" cy="302.5" r="3.0" fill="#000" stroke="none"/>
<circle cx="214.5" cy="303.5" r="3.0" fill="#000" stroke="none"/>
<circle cx="203" cy="304.5" r="3.0" fill="#000" stroke="none"/>
<circle cx="206.5" cy="306" r="3.0" fill="#000" stroke="none"/>
<circle cx="210" cy="306" r="3.0" fill="#000" stroke="none"/>
<circle cx="214" cy="306.5" r="3.0" fill="#000" stroke="none"/>
<circle cx="217.5" cy="306.5" r="3.0" fill="#000" stroke="none"/>
<circle cx="204.5" cy="309" r="3.0" fill="#000" stroke="none"/>
<circle cx="208" cy="309.5" r="3.0" fill="#000" stroke="none"/>
<circle cx="212" cy="309.5" r="3.0" fill="#000" stroke="none"/>
<circle cx="216" cy="309" r="3.0" fill="#000" stroke="none"/>
<line x1="196.5" y1="306.7" x2="219.5" y2="306.7" stroke-width="2.6"/>
<circle cx="232.1" cy="295.9" r="2.2" fill="#fff" stroke-width="1.4"/>
<circle cx="228.5" cy="303.5" r="2.2" fill="none" stroke-width="1.45"/>
<circle cx="231.5" cy="303.5" r="2.2" fill="none" stroke-width="1.45"/>
<circle cx="234.5" cy="303.8" r="2.2" fill="none" stroke-width="1.45"/>
<circle cx="237.5" cy="304" r="2.2" fill="none" stroke-width="1.45"/>
<circle cx="240.5" cy="304.5" r="2.2" fill="none" stroke-width="1.45"/>
<circle cx="228" cy="306.8" r="2.2" fill="none" stroke-width="1.45"/>
<circle cx="231" cy="307" r="2.2" fill="none" stroke-width="1.45"/>
<circle cx="234" cy="307.2" r="2.2" fill="none" stroke-width="1.45"/>
<circle cx="237" cy="307.2" r="2.2" fill="none" stroke-width="1.45"/>
<circle cx="240" cy="307" r="2.2" fill="none" stroke-width="1.45"/>
<circle cx="243" cy="306.5" r="2.2" fill="none" stroke-width="1.45"/>
<circle cx="231" cy="310.2" r="2.2" fill="none" stroke-width="1.45"/>
<circle cx="234.5" cy="309.8" r="2.2" fill="none" stroke-width="1.45"/>
<circle cx="237.5" cy="309.8" r="2.2" fill="none" stroke-width="1.45"/>
<circle cx="240.5" cy="310.2" r="2.2" fill="none" stroke-width="1.45"/>
<line x1="225.4" y1="305.6" x2="245.5" y2="305.6" stroke-width="2.8"/>
<line x1="336.3" y1="4.6" x2="336.3" y2="116.8" stroke-width="1.7"/>
<line x1="336.3" y1="4.6" x2="457.7" y2="4.6" stroke-width="1.7"/>
<line x1="463.8" y1="4.6" x2="516.3" y2="4.6" stroke-width="1.7"/>
<line x1="516.3" y1="4.6" x2="516.3" y2="116.8" stroke-width="1.7"/>
<line x1="336.3" y1="116.8" x2="457.7" y2="116.8" stroke-width="1.7"/>
<line x1="463.8" y1="116.8" x2="516.3" y2="116.8" stroke-width="1.7"/>
<line x1="455.2" y1="6.1" x2="458.7" y2="2.5999999999999996" stroke-width="1.3"/>
<line x1="462.8" y1="6.1" x2="466.3" y2="2.5999999999999996" stroke-width="1.3"/>
<line x1="455.2" y1="118.3" x2="458.7" y2="114.8" stroke-width="1.3"/>
<line x1="462.8" y1="118.3" x2="466.3" y2="114.8" stroke-width="1.3"/>
<line x1="330.3" y1="4.8" x2="336.3" y2="4.8" stroke-width="1.4"/>
<line x1="330.3" y1="64.2" x2="336.3" y2="64.2" stroke-width="1.4"/>
<line x1="330.3" y1="116.9" x2="336.3" y2="116.9" stroke-width="1.4"/>
<text x="321.8" y="9.0" font-size="10" font-weight="bold" text-anchor="end" >100</text>
<text x="324.6" y="69.3" font-size="10" font-weight="bold" text-anchor="end" >50</text>
<text x="326.2" y="121.3" font-size="10" font-weight="bold" text-anchor="end" >0</text>
<line x1="359" y1="115.3" x2="359" y2="122.8" stroke-width="1.4"/>
<line x1="397" y1="115.3" x2="397" y2="122.8" stroke-width="1.4"/>
<line x1="440" y1="115.3" x2="440" y2="122.8" stroke-width="1.4"/>
<line x1="492.3" y1="115.3" x2="492.3" y2="122.8" stroke-width="1.4"/>
<text x="496.3" y="31.3" font-size="14.5" font-weight="bold" text-anchor="middle" >D</text>
<text transform="translate(303.3,67.8) rotate(-90)" font-size="10.5" font-weight="bold" text-anchor="middle" textLength="67.2" lengthAdjust="spacingAndGlyphs">Spontaneous</text>
<circle cx="340.5" cy="115.2" r="3.0" fill="#000" stroke="none"/>
<circle cx="344" cy="115.2" r="3.0" fill="#000" stroke="none"/>
<circle cx="347.5" cy="115.2" r="3.0" fill="#000" stroke="none"/>
<circle cx="351" cy="115.2" r="3.0" fill="#000" stroke="none"/>
<circle cx="354.5" cy="115.2" r="3.0" fill="#000" stroke="none"/>
<circle cx="342" cy="116.3" r="3.0" fill="#000" stroke="none"/>
<circle cx="345.5" cy="116.3" r="3.0" fill="#000" stroke="none"/>
<circle cx="349" cy="116.3" r="3.0" fill="#000" stroke="none"/>
<circle cx="352.5" cy="116.3" r="3.0" fill="#000" stroke="none"/>
<circle cx="355.5" cy="116.3" r="3.0" fill="#000" stroke="none"/>
<circle cx="353.3" cy="109.6" r="3.0" fill="#000" stroke="none"/>
<circle cx="355" cy="111.8" r="3.0" fill="#000" stroke="none"/>
<circle cx="351.5" cy="112.5" r="3.0" fill="#000" stroke="none"/>
<line x1="338" y1="115.5" x2="358" y2="115.5" stroke-width="2.6"/>
<circle cx="368.1" cy="73.0" r="2.2" fill="#fff" stroke-width="1.4"/>
<circle cx="371.3" cy="108.6" r="2.2" fill="#fff" stroke-width="1.4"/>
<circle cx="364.5" cy="113.6" r="2.2" fill="none" stroke-width="1.45"/>
<circle cx="367" cy="113.6" r="2.2" fill="none" stroke-width="1.45"/>
<circle cx="369.5" cy="113.6" r="2.2" fill="none" stroke-width="1.45"/>
<circle cx="372" cy="113.6" r="2.2" fill="none" stroke-width="1.45"/>
<circle cx="374" cy="113.6" r="2.2" fill="none" stroke-width="1.45"/>
<circle cx="364" cy="116.3" r="2.2" fill="none" stroke-width="1.45"/>
<circle cx="366.5" cy="116.3" r="2.2" fill="none" stroke-width="1.45"/>
<circle cx="369" cy="116.3" r="2.2" fill="none" stroke-width="1.45"/>
<circle cx="371.5" cy="116.3" r="2.2" fill="none" stroke-width="1.45"/>
<circle cx="374" cy="116.3" r="2.2" fill="none" stroke-width="1.45"/>
<line x1="362" y1="115.2" x2="376.5" y2="115.2" stroke-width="3.0"/>
<circle cx="389.9" cy="78.7" r="3.0" fill="#000" stroke="none"/>
<circle cx="392.2" cy="93.2" r="3.0" fill="#000" stroke="none"/>
<circle cx="392.2" cy="96.3" r="3.0" fill="#000" stroke="none"/>
<circle cx="392.5" cy="107.4" r="3.0" fill="#000" stroke="none"/>
<circle cx="391" cy="110.8" r="3.0" fill="#000" stroke="none"/>
<circle cx="394" cy="111.5" r="3.0" fill="#000" stroke="none"/>
<circle cx="381" cy="115.0" r="3.0" fill="#000" stroke="none"/>
<circle cx="384.5" cy="115.0" r="3.0" fill="#000" stroke="none"/>
<circle cx="388" cy="115.0" r="3.0" fill="#000" stroke="none"/>
<circle cx="391.5" cy="115.0" r="3.0" fill="#000" stroke="none"/>
<circle cx="394.5" cy="115.0" r="3.0" fill="#000" stroke="none"/>
<circle cx="380.5" cy="116.4" r="3.0" fill="#000" stroke="none"/>
<circle cx="384" cy="116.4" r="3.0" fill="#000" stroke="none"/>
<circle cx="387.5" cy="116.4" r="3.0" fill="#000" stroke="none"/>
<circle cx="391" cy="116.4" r="3.0" fill="#000" stroke="none"/>
<circle cx="394" cy="116.4" r="3.0" fill="#000" stroke="none"/>
<line x1="378" y1="114.6" x2="395.5" y2="114.6" stroke-width="2.6"/>
<circle cx="408.2" cy="80.3" r="2.2" fill="#fff" stroke-width="1.4"/>
<circle cx="411.3" cy="84.1" r="2.2" fill="#fff" stroke-width="1.4"/>
<circle cx="408.2" cy="87.9" r="2.2" fill="#fff" stroke-width="1.4"/>
<circle cx="405.9" cy="99.6" r="2.2" fill="#fff" stroke-width="1.4"/>
<circle cx="410.2" cy="99.6" r="2.2" fill="#fff" stroke-width="1.4"/>
<circle cx="408" cy="102.6" r="2.2" fill="#fff" stroke-width="1.4"/>
<circle cx="408.4" cy="107.4" r="2.2" fill="#fff" stroke-width="1.4"/>
<circle cx="402.6" cy="110.7" r="2.2" fill="#fff" stroke-width="1.4"/>
<circle cx="401.5" cy="113.5" r="2.2" fill="none" stroke-width="1.45"/>
<circle cx="404" cy="113.5" r="2.2" fill="none" stroke-width="1.45"/>
<circle cx="406.5" cy="113.5" r="2.2" fill="none" stroke-width="1.45"/>
<circle cx="409" cy="113.5" r="2.2" fill="none" stroke-width="1.45"/>
<circle cx="411.5" cy="113.5" r="2.2" fill="none" stroke-width="1.45"/>
<circle cx="414" cy="114" r="2.2" fill="none" stroke-width="1.45"/>
<circle cx="402" cy="116.3" r="2.2" fill="none" stroke-width="1.45"/>
<circle cx="404.5" cy="116.3" r="2.2" fill="none" stroke-width="1.45"/>
<circle cx="407" cy="116.3" r="2.2" fill="none" stroke-width="1.45"/>
<circle cx="409.5" cy="116.3" r="2.2" fill="none" stroke-width="1.45"/>
<circle cx="412" cy="116.3" r="2.2" fill="none" stroke-width="1.45"/>
<line x1="398.5" y1="114.3" x2="417.5" y2="114.3" stroke-width="3.0"/>
<circle cx="432.2" cy="34.0" r="3.0" fill="#000" stroke="none"/>
<circle cx="429.4" cy="52.8" r="3.0" fill="#000" stroke="none"/>
<circle cx="432.8" cy="54.4" r="3.0" fill="#000" stroke="none"/>
<circle cx="434.8" cy="52.0" r="3.0" fill="#000" stroke="none"/>
<circle cx="430.0" cy="76.4" r="3.0" fill="#000" stroke="none"/>
<circle cx="429.7" cy="99.0" r="3.0" fill="#000" stroke="none"/>
<circle cx="433.8" cy="96.8" r="3.0" fill="#000" stroke="none"/>
<circle cx="428" cy="110.3" r="3.0" fill="#000" stroke="none"/>
<circle cx="433" cy="110.8" r="3.0" fill="#000" stroke="none"/>
<circle cx="430.5" cy="113" r="3.0" fill="#000" stroke="none"/>
<circle cx="434.5" cy="114" r="3.0" fill="#000" stroke="none"/>
<circle cx="429.5" cy="115.8" r="3.0" fill="#000" stroke="none"/>
<circle cx="433" cy="116.3" r="3.0" fill="#000" stroke="none"/>
<circle cx="431" cy="117.2" r="3.0" fill="#000" stroke="none"/>
<line x1="419.1" y1="107.7" x2="440.4" y2="107.7" stroke-width="2.6"/>
<circle cx="446.1" cy="62.1" r="2.2" fill="#fff" stroke-width="1.4"/>
<circle cx="447.9" cy="64.8" r="2.2" fill="#fff" stroke-width="1.4"/>
<circle cx="447.9" cy="68.9" r="2.2" fill="#fff" stroke-width="1.4"/>
<circle cx="445.2" cy="76.4" r="2.2" fill="#fff" stroke-width="1.4"/>
<circle cx="446.1" cy="79" r="2.2" fill="#fff" stroke-width="1.4"/>
<circle cx="448.8" cy="80.8" r="2.2" fill="#fff" stroke-width="1.4"/>
<circle cx="442.6" cy="88.5" r="2.2" fill="#fff" stroke-width="1.4"/>
<circle cx="443.5" cy="92.4" r="2.2" fill="#fff" stroke-width="1.4"/>
<circle cx="446.1" cy="93.3" r="2.2" fill="#fff" stroke-width="1.4"/>
<circle cx="447.9" cy="98.6" r="2.2" fill="#fff" stroke-width="1.4"/>
<circle cx="446.1" cy="102.2" r="2.2" fill="#fff" stroke-width="1.4"/>
<circle cx="450.6" cy="103.9" r="2.2" fill="#fff" stroke-width="1.4"/>
<circle cx="447.9" cy="106.6" r="2.2" fill="#fff" stroke-width="1.4"/>
<circle cx="451.5" cy="116.4" r="2.2" fill="#fff" stroke-width="1.4"/>
<line x1="441.7" y1="89.2" x2="460.4" y2="89.2" stroke-width="2.6"/>
<circle cx="472.5" cy="95.6" r="3.0" fill="#000" stroke="none"/>
<circle cx="464" cy="115.3" r="2.8" fill="#000" stroke="none"/>
<circle cx="467.3" cy="116.19999999999999" r="2.8" fill="#000" stroke="none"/>
<circle cx="470.6" cy="115.3" r="2.8" fill="#000" stroke="none"/>
<circle cx="473.9" cy="116.19999999999999" r="2.8" fill="#000" stroke="none"/>
<circle cx="477.2" cy="115.3" r="2.8" fill="#000" stroke="none"/>
<circle cx="480.5" cy="116.19999999999999" r="2.8" fill="#000" stroke="none"/>
<circle cx="483.8" cy="115.3" r="2.8" fill="#000" stroke="none"/>
<circle cx="487.1" cy="116.19999999999999" r="2.8" fill="#000" stroke="none"/>
<circle cx="489.8" cy="115.3" r="2.8" fill="#000" stroke="none"/>
<line x1="461" y1="115.8" x2="491" y2="115.8" stroke-width="2.2"/>
<circle cx="504.7" cy="84.7" r="2.2" fill="#fff" stroke-width="1.4"/>
<circle cx="496.7" cy="101.9" r="2.2" fill="#fff" stroke-width="1.4"/>
<circle cx="504.3" cy="100.5" r="2.2" fill="#fff" stroke-width="1.4"/>
<circle cx="500.5" cy="104.3" r="2.2" fill="#fff" stroke-width="1.4"/>
<circle cx="497" cy="106.7" r="2.2" fill="#fff" stroke-width="1.4"/>
<circle cx="504.7" cy="108.5" r="2.2" fill="#fff" stroke-width="1.4"/>
<circle cx="508.9" cy="109.9" r="2.2" fill="#fff" stroke-width="1.4"/>
<circle cx="504.7" cy="112" r="2.2" fill="#fff" stroke-width="1.4"/>
<circle cx="496.3" cy="115.5" r="2.2" fill="#fff" stroke-width="1.4"/>
<circle cx="500.5" cy="115.5" r="2.2" fill="#fff" stroke-width="1.4"/>
<line x1="492.8" y1="107.1" x2="513.8" y2="107.1" stroke-width="2.6"/>
<line x1="336.2" y1="133.3" x2="336.2" y2="247.7" stroke-width="1.7"/>
<line x1="336.2" y1="133.3" x2="457.0" y2="133.3" stroke-width="1.7"/>
<line x1="463.0" y1="133.3" x2="516.5" y2="133.3" stroke-width="1.7"/>
<line x1="516.5" y1="133.3" x2="516.5" y2="247.7" stroke-width="1.7"/>
<line x1="336.2" y1="247.7" x2="457.0" y2="247.7" stroke-width="1.7"/>
<line x1="463.0" y1="247.7" x2="516.5" y2="247.7" stroke-width="1.7"/>
<line x1="454.5" y1="134.8" x2="458.0" y2="131.3" stroke-width="1.3"/>
<line x1="462.0" y1="134.8" x2="465.5" y2="131.3" stroke-width="1.3"/>
<line x1="454.5" y1="249.2" x2="458.0" y2="245.7" stroke-width="1.3"/>
<line x1="462.0" y1="249.2" x2="465.5" y2="245.7" stroke-width="1.3"/>
<line x1="333.5" y1="199.3" x2="516.5" y2="199.3" stroke-width="1.4"/>
<line x1="330.6" y1="139.0" x2="336.2" y2="139.0" stroke-width="1.4"/>
<line x1="330.6" y1="244.7" x2="336.2" y2="244.7" stroke-width="1.4"/>
<text x="325.6" y="141.5" font-size="10" font-weight="bold" text-anchor="end" >50</text>
<text x="330.6" y="201.0" font-size="10" font-weight="bold" text-anchor="end" >0</text>
<text x="326.6" y="247.1" font-size="10" font-weight="bold" text-anchor="end" >-40</text>
<line x1="359.3" y1="246.2" x2="359.3" y2="252.8" stroke-width="1.4"/>
<line x1="397.5" y1="246.2" x2="397.5" y2="252.8" stroke-width="1.4"/>
<line x1="440" y1="246.2" x2="440" y2="252.8" stroke-width="1.4"/>
<line x1="492.5" y1="246.2" x2="492.5" y2="252.8" stroke-width="1.4"/>
<text x="497.4" y="153.2" font-size="14.5" font-weight="bold" text-anchor="middle" >E</text>
<text transform="translate(303.6,195.4) rotate(-90)" font-size="10.5" font-weight="bold" text-anchor="middle" textLength="115.6" lengthAdjust="spacingAndGlyphs">Specific CD95-induced</text>
<circle cx="352.7" cy="164.7" r="3.0" fill="#000" stroke="none"/>
<circle cx="347.5" cy="191.2" r="3.0" fill="#000" stroke="none"/>
<circle cx="351.9" cy="192.5" r="3.0" fill="#000" stroke="none"/>
<circle cx="346.5" cy="194.5" r="3.0" fill="#000" stroke="none"/>
<circle cx="350" cy="195.5" r="3.0" fill="#000" stroke="none"/>
<circle cx="354" cy="196" r="3.0" fill="#000" stroke="none"/>
<circle cx="347.5" cy="198" r="3.0" fill="#000" stroke="none"/>
<circle cx="351" cy="198.5" r="3.0" fill="#000" stroke="none"/>
<circle cx="354.5" cy="199" r="3.0" fill="#000" stroke="none"/>
<circle cx="348" cy="201" r="3.0" fill="#000" stroke="none"/>
<circle cx="351.5" cy="201.5" r="3.0" fill="#000" stroke="none"/>
<circle cx="354.5" cy="201.8" r="3.0" fill="#000" stroke="none"/>
<circle cx="352.3" cy="203.5" r="3.0" fill="#000" stroke="none"/>
<line x1="341.3" y1="198.8" x2="357.0" y2="198.8" stroke-width="3.0"/>
<circle cx="366.2" cy="136.0" r="2.2" fill="#fff" stroke-width="1.4"/>
<circle cx="366.3" cy="192.5" r="2.2" fill="#fff" stroke-width="1.4"/>
<circle cx="363" cy="195.5" r="2.2" fill="none" stroke-width="1.45"/>
<circle cx="365.5" cy="195.5" r="2.2" fill="none" stroke-width="1.45"/>
<circle cx="368" cy="195.5" r="2.2" fill="none" stroke-width="1.45"/>
<circle cx="370.5" cy="196" r="2.2" fill="none" stroke-width="1.45"/>
<circle cx="363" cy="198.5" r="2.2" fill="none" stroke-width="1.45"/>
<circle cx="365.5" cy="198.5" r="2.2" fill="none" stroke-width="1.45"/>
<circle cx="368" cy="198.5" r="2.2" fill="none" stroke-width="1.45"/>
<circle cx="370.5" cy="198.5" r="2.2" fill="none" stroke-width="1.45"/>
<circle cx="363.5" cy="201.3" r="2.2" fill="none" stroke-width="1.45"/>
<circle cx="366" cy="201.5" r="2.2" fill="none" stroke-width="1.45"/>
<circle cx="368.5" cy="201.5" r="2.2" fill="none" stroke-width="1.45"/>
<circle cx="371" cy="201" r="2.2" fill="none" stroke-width="1.45"/>
<line x1="360.5" y1="198.8" x2="372" y2="198.8" stroke-width="3.0"/>
<circle cx="385" cy="173" r="3.0" fill="#000" stroke="none"/>
<circle cx="390.3" cy="176" r="3.0" fill="#000" stroke="none"/>
<circle cx="390.3" cy="179.5" r="3.0" fill="#000" stroke="none"/>
<circle cx="385" cy="182.9" r="3.0" fill="#000" stroke="none"/>
<circle cx="384" cy="183" r="3.0" fill="#000" stroke="none"/>
<circle cx="384" cy="194.5" r="3.0" fill="#000" stroke="none"/>
<circle cx="388.5" cy="194.5" r="3.0" fill="#000" stroke="none"/>
<circle cx="382.5" cy="198" r="3.0" fill="#000" stroke="none"/>
<circle cx="386.5" cy="198" r="3.0" fill="#000" stroke="none"/>
<circle cx="391" cy="198" r="3.0" fill="#000" stroke="none"/>
<circle cx="384" cy="201.5" r="3.0" fill="#000" stroke="none"/>
<circle cx="388.5" cy="201.5" r="3.0" fill="#000" stroke="none"/>
<circle cx="387.3" cy="211.9" r="3.0" fill="#000" stroke="none"/>
<circle cx="390" cy="215" r="3.0" fill="#000" stroke="none"/>
<line x1="380.5" y1="198.8" x2="394" y2="198.8" stroke-width="2.6"/>
<circle cx="404" cy="178.6" r="2.2" fill="#fff" stroke-width="1.4"/>
<circle cx="401" cy="192.8" r="2.2" fill="#fff" stroke-width="1.4"/>
<circle cx="405.6" cy="192.2" r="2.2" fill="#fff" stroke-width="1.4"/>
<circle cx="400" cy="195.5" r="2.2" fill="none" stroke-width="1.45"/>
<circle cx="402.5" cy="195.5" r="2.2" fill="none" stroke-width="1.45"/>
<circle cx="405" cy="195.5" r="2.2" fill="none" stroke-width="1.45"/>
<circle cx="407.5" cy="195.8" r="2.2" fill="none" stroke-width="1.45"/>
<circle cx="400" cy="198.5" r="2.2" fill="none" stroke-width="1.45"/>
<circle cx="402.5" cy="198.5" r="2.2" fill="none" stroke-width="1.45"/>
<circle cx="405" cy="198.5" r="2.2" fill="none" stroke-width="1.45"/>
<circle cx="407.5" cy="198.5" r="2.2" fill="none" stroke-width="1.45"/>
<circle cx="410" cy="198.8" r="2.2" fill="none" stroke-width="1.45"/>
<circle cx="401.5" cy="201.5" r="2.2" fill="none" stroke-width="1.45"/>
<circle cx="404" cy="201.5" r="2.2" fill="none" stroke-width="1.45"/>
<circle cx="406.5" cy="201.5" r="2.2" fill="none" stroke-width="1.45"/>
<circle cx="409" cy="201.5" r="2.2" fill="none" stroke-width="1.45"/>
<circle cx="400.2" cy="205.8" r="2.2" fill="#fff" stroke-width="1.4"/>
<circle cx="404.8" cy="205.8" r="2.2" fill="#fff" stroke-width="1.4"/>
<circle cx="407.1" cy="208.9" r="2.2" fill="#fff" stroke-width="1.4"/>
<circle cx="409.4" cy="211.9" r="2.2" fill="#fff" stroke-width="1.4"/>
<line x1="398.5" y1="198.8" x2="415.5" y2="198.8" stroke-width="2.6"/>
<circle cx="428.3" cy="167" r="3.0" fill="#000" stroke="none"/>
<circle cx="434.9" cy="174.1" r="3.0" fill="#000" stroke="none"/>
<circle cx="432.2" cy="191.5" r="3.0" fill="#000" stroke="none"/>
<circle cx="431" cy="224.5" r="3.0" fill="#000" stroke="none"/>
<circle cx="429.2" cy="242.3" r="3.0" fill="#000" stroke="none"/>
<circle cx="432.8" cy="240.5" r="3.0" fill="#000" stroke="none"/>
<circle cx="428.5" cy="195.5" r="3.0" fill="#000" stroke="none"/>
<circle cx="431.5" cy="196" r="3.0" fill="#000" stroke="none"/>
<circle cx="427" cy="198.5" r="3.0" fill="#000" stroke="none"/>
<circle cx="430.5" cy="198.8" r="3.0" fill="#000" stroke="none"/>
<circle cx="434" cy="199" r="3.0" fill="#000" stroke="none"/>
<circle cx="436.3" cy="199.8" r="3.0" fill="#000" stroke="none"/>
<circle cx="426" cy="200.5" r="3.0" fill="#000" stroke="none"/>
<circle cx="429.5" cy="200.5" r="3.0" fill="#000" stroke="none"/>
<circle cx="433" cy="200.5" r="3.0" fill="#000" stroke="none"/>
<line x1="421" y1="199.5" x2="439.5" y2="199.5" stroke-width="2.2"/>
<circle cx="445.6" cy="148.7" r="2.2" fill="#fff" stroke-width="1.4"/>
<circle cx="443.1" cy="170" r="2.2" fill="#fff" stroke-width="1.4"/>
<circle cx="445.6" cy="178.4" r="2.2" fill="#fff" stroke-width="1.4"/>
<circle cx="443" cy="193.8" r="2.2" fill="#fff" stroke-width="1.4"/>
<circle cx="448.4" cy="193.8" r="2.2" fill="#fff" stroke-width="1.4"/>
<circle cx="442.5" cy="197.5" r="2.2" fill="none" stroke-width="1.45"/>
<circle cx="445" cy="197.5" r="2.2" fill="none" stroke-width="1.45"/>
<circle cx="447.5" cy="197.5" r="2.2" fill="none" stroke-width="1.45"/>
<circle cx="450" cy="197.5" r="2.2" fill="none" stroke-width="1.45"/>
<circle cx="452.5" cy="198.5" r="2.2" fill="none" stroke-width="1.45"/>
<circle cx="442.5" cy="200.5" r="2.2" fill="none" stroke-width="1.45"/>
<circle cx="447.5" cy="200.5" r="2.2" fill="none" stroke-width="1.45"/>
<circle cx="450" cy="200.5" r="2.2" fill="none" stroke-width="1.45"/>
<circle cx="452.5" cy="200.5" r="2.2" fill="none" stroke-width="1.45"/>
<circle cx="445.3" cy="201.5" r="2.2" fill="none" stroke-width="1.45"/>
<circle cx="447.9" cy="212.6" r="2.2" fill="#fff" stroke-width="1.4"/>
<circle cx="447.9" cy="222" r="2.2" fill="#fff" stroke-width="1.4"/>
<circle cx="447.9" cy="247.3" r="2.2" fill="#fff" stroke-width="1.4"/>
<line x1="440.5" y1="199.3" x2="456.5" y2="199.3" stroke-width="2.6"/>
<circle cx="463.5" cy="199" r="2.8" fill="#000" stroke="none"/>
<circle cx="466.8" cy="198" r="2.8" fill="#000" stroke="none"/>
<circle cx="470" cy="199.5" r="2.8" fill="#000" stroke="none"/>
<circle cx="473.3" cy="197.8" r="2.8" fill="#000" stroke="none"/>
<circle cx="476.5" cy="199.3" r="2.8" fill="#000" stroke="none"/>
<circle cx="479.8" cy="198.3" r="2.8" fill="#000" stroke="none"/>
<circle cx="483" cy="199.8" r="2.8" fill="#000" stroke="none"/>
<circle cx="486.3" cy="198.8" r="2.8" fill="#000" stroke="none"/>
<circle cx="489" cy="199.5" r="2.8" fill="#000" stroke="none"/>
<circle cx="467.5" cy="201.5" r="2.8" fill="#000" stroke="none"/>
<circle cx="472.5" cy="201.2" r="2.8" fill="#000" stroke="none"/>
<circle cx="478" cy="202.2" r="2.8" fill="#000" stroke="none"/>
<circle cx="484.5" cy="201.5" r="2.8" fill="#000" stroke="none"/>
<line x1="460" y1="199.2" x2="491" y2="199.2" stroke-width="2.4"/>
<circle cx="504.4" cy="191.5" r="2.2" fill="#fff" stroke-width="1.4"/>
<circle cx="496.5" cy="196.5" r="2.2" fill="none" stroke-width="1.45"/>
<circle cx="499" cy="196.2" r="2.2" fill="none" stroke-width="1.45"/>
<circle cx="501.5" cy="196.2" r="2.2" fill="none" stroke-width="1.45"/>
<circle cx="504" cy="196.5" r="2.2" fill="none" stroke-width="1.45"/>
<circle cx="506.5" cy="197" r="2.2" fill="none" stroke-width="1.45"/>
<circle cx="495.5" cy="199.5" r="2.2" fill="none" stroke-width="1.45"/>
<circle cx="498" cy="199.8" r="2.2" fill="none" stroke-width="1.45"/>
<circle cx="500.5" cy="200" r="2.2" fill="none" stroke-width="1.45"/>
<circle cx="503" cy="200" r="2.2" fill="none" stroke-width="1.45"/>
<circle cx="505.5" cy="200" r="2.2" fill="none" stroke-width="1.45"/>
<circle cx="508" cy="199.8" r="2.2" fill="none" stroke-width="1.45"/>
<circle cx="510.5" cy="199.5" r="2.2" fill="none" stroke-width="1.45"/>
<circle cx="499" cy="202" r="2.2" fill="none" stroke-width="1.45"/>
<circle cx="502" cy="202.2" r="2.2" fill="none" stroke-width="1.45"/>
<circle cx="505" cy="202" r="2.2" fill="none" stroke-width="1.45"/>
<circle cx="508" cy="201.8" r="2.2" fill="none" stroke-width="1.45"/>
<line x1="493.5" y1="199.3" x2="512" y2="199.3" stroke-width="2.6"/>
<line x1="335.8" y1="261.5" x2="335.8" y2="376.1" stroke-width="1.7"/>
<line x1="335.8" y1="261.5" x2="457.7" y2="261.5" stroke-width="1.7"/>
<line x1="463.5" y1="261.5" x2="516.6" y2="261.5" stroke-width="1.7"/>
<line x1="516.6" y1="261.5" x2="516.6" y2="376.1" stroke-width="1.7"/>
<line x1="335.8" y1="376.1" x2="457.7" y2="376.1" stroke-width="1.7"/>
<line x1="463.5" y1="376.1" x2="516.6" y2="376.1" stroke-width="1.7"/>
<line x1="455.2" y1="263.0" x2="458.7" y2="259.5" stroke-width="1.3"/>
<line x1="462.5" y1="263.0" x2="466.0" y2="259.5" stroke-width="1.3"/>
<line x1="455.2" y1="377.6" x2="458.7" y2="374.1" stroke-width="1.3"/>
<line x1="462.5" y1="377.6" x2="466.0" y2="374.1" stroke-width="1.3"/>
<line x1="330.0" y1="261.6" x2="335.8" y2="261.6" stroke-width="1.4"/>
<line x1="330.0" y1="318.4" x2="335.8" y2="318.4" stroke-width="1.4"/>
<line x1="330.0" y1="375.9" x2="335.8" y2="375.9" stroke-width="1.4"/>
<text x="328.4" y="267.8" font-size="10" font-weight="bold" text-anchor="end" >100</text>
<text x="328.0" y="322.6" font-size="10" font-weight="bold" text-anchor="end" >50</text>
<text x="330.5" y="380.1" font-size="10" font-weight="bold" text-anchor="end" >0</text>
<line x1="358.5" y1="374.6" x2="358.5" y2="381.0" stroke-width="1.4"/>
<line x1="397.5" y1="374.6" x2="397.5" y2="381.0" stroke-width="1.4"/>
<line x1="440.7" y1="374.6" x2="440.7" y2="381.0" stroke-width="1.4"/>
<line x1="492.6" y1="374.6" x2="492.6" y2="381.0" stroke-width="1.4"/>
<text x="358.5" y="390.8" font-size="10" font-weight="bold" text-anchor="middle" >I</text>
<text x="396.2" y="390.8" font-size="10" font-weight="bold" text-anchor="middle" >II</text>
<text x="440.3" y="390.8" font-size="10" font-weight="bold" text-anchor="middle" >III</text>
<text x="490.1" y="390.8" font-size="10" font-weight="bold" text-anchor="middle" >CTRL</text>
<text x="496.7" y="280.0" font-size="14.5" font-weight="bold" text-anchor="middle" >F</text>
<text transform="translate(303.3,314.5) rotate(-90)" font-size="10.5" font-weight="bold" text-anchor="middle" textLength="110.0" lengthAdjust="spacingAndGlyphs">Specific CD3-induced</text>
<circle cx="352.9" cy="312.5" r="3.0" fill="#000" stroke="none"/>
<circle cx="351.1" cy="315.1" r="3.0" fill="#000" stroke="none"/>
<circle cx="352" cy="319.6" r="3.0" fill="#000" stroke="none"/>
<circle cx="351.1" cy="321.7" r="3.0" fill="#000" stroke="none"/>
<circle cx="351.7" cy="336.5" r="3.0" fill="#000" stroke="none"/>
<circle cx="352.9" cy="340" r="3.0" fill="#000" stroke="none"/>
<circle cx="351.7" cy="343.6" r="3.0" fill="#000" stroke="none"/>
<circle cx="352.9" cy="347.2" r="3.0" fill="#000" stroke="none"/>
<circle cx="351.1" cy="348.9" r="3.0" fill="#000" stroke="none"/>
<circle cx="353.8" cy="357.3" r="3.0" fill="#000" stroke="none"/>
<circle cx="351.1" cy="360.5" r="3.0" fill="#000" stroke="none"/>
<line x1="343.1" y1="342.7" x2="360.9" y2="342.7" stroke-width="2.6"/>
<circle cx="364.5" cy="307.5" r="2.2" fill="#fff" stroke-width="1.4"/>
<circle cx="367.7" cy="327" r="2.2" fill="#fff" stroke-width="1.4"/>
<circle cx="364.5" cy="331.7" r="2.2" fill="#fff" stroke-width="1.4"/>
<circle cx="367.7" cy="333" r="2.2" fill="#fff" stroke-width="1.4"/>
<circle cx="364.5" cy="336.5" r="2.2" fill="#fff" stroke-width="1.4"/>
<circle cx="367.7" cy="337.7" r="2.2" fill="#fff" stroke-width="1.4"/>
<circle cx="367.7" cy="347.2" r="2.2" fill="#fff" stroke-width="1.4"/>
<circle cx="364.5" cy="352.5" r="2.2" fill="#fff" stroke-width="1.4"/>
<circle cx="364.5" cy="355.2" r="2.2" fill="#fff" stroke-width="1.4"/>
<circle cx="367.1" cy="358.7" r="2.2" fill="#fff" stroke-width="1.4"/>
<circle cx="364.5" cy="361.4" r="2.2" fill="#fff" stroke-width="1.4"/>
<line x1="362.7" y1="342.7" x2="377.3" y2="342.7" stroke-width="2.6"/>
<circle cx="388.9" cy="292.5" r="3.0" fill="#000" stroke="none"/>
<circle cx="388.9" cy="301.2" r="3.0" fill="#000" stroke="none"/>
<circle cx="392.1" cy="304.7" r="3.0" fill="#000" stroke="none"/>
<circle cx="388.9" cy="307.5" r="3.0" fill="#000" stroke="none"/>
<circle cx="385.9" cy="318" r="3.0" fill="#000" stroke="none"/>
<circle cx="385.9" cy="331.4" r="3.0" fill="#000" stroke="none"/>
<circle cx="391.3" cy="333.7" r="3.0" fill="#000" stroke="none"/>
<circle cx="391.5" cy="337" r="3.0" fill="#000" stroke="none"/>
<circle cx="391.5" cy="340.5" r="3.0" fill="#000" stroke="none"/>
<circle cx="386.5" cy="345.5" r="3.0" fill="#000" stroke="none"/>
<circle cx="389.5" cy="345.5" r="3.0" fill="#000" stroke="none"/>
<circle cx="392" cy="344.5" r="3.0" fill="#000" stroke="none"/>
<circle cx="386.5" cy="349" r="3.0" fill="#000" stroke="none"/>
<circle cx="389.5" cy="349.5" r="3.0" fill="#000" stroke="none"/>
<circle cx="392" cy="348.5" r="3.0" fill="#000" stroke="none"/>
<circle cx="391.5" cy="352" r="3.0" fill="#000" stroke="none"/>
<circle cx="391.5" cy="355" r="3.0" fill="#000" stroke="none"/>
<circle cx="391.5" cy="357.5" r="3.0" fill="#000" stroke="none"/>
<line x1="379.8" y1="342.8" x2="395.5" y2="342.8" stroke-width="2.6"/>
<circle cx="404.7" cy="290" r="2.2" fill="#fff" stroke-width="1.4"/>
<circle cx="404.7" cy="301.5" r="2.2" fill="#fff" stroke-width="1.4"/>
<circle cx="404.2" cy="324.5" r="2.2" fill="#fff" stroke-width="1.4"/>
<circle cx="408" cy="322.2" r="2.2" fill="#fff" stroke-width="1.4"/>
<circle cx="407.5" cy="335.5" r="2.2" fill="none" stroke-width="1.45"/>
<circle cx="404.5" cy="336" r="2.2" fill="none" stroke-width="1.45"/>
<circle cx="409.5" cy="338" r="2.2" fill="none" stroke-width="1.45"/>
<circle cx="405" cy="339.5" r="2.2" fill="none" stroke-width="1.45"/>
<circle cx="408" cy="341" r="2.2" fill="none" stroke-width="1.45"/>
<circle cx="404.5" cy="343" r="2.2" fill="none" stroke-width="1.45"/>
<circle cx="408.5" cy="344.5" r="2.2" fill="none" stroke-width="1.45"/>
<circle cx="405" cy="346.5" r="2.2" fill="none" stroke-width="1.45"/>
<circle cx="408.5" cy="348" r="2.2" fill="none" stroke-width="1.45"/>
<circle cx="404.5" cy="350" r="2.2" fill="none" stroke-width="1.45"/>
<circle cx="408.5" cy="351.5" r="2.2" fill="none" stroke-width="1.45"/>
<circle cx="405" cy="353.5" r="2.2" fill="none" stroke-width="1.45"/>
<circle cx="408.5" cy="355" r="2.2" fill="none" stroke-width="1.45"/>
<circle cx="405" cy="357" r="2.2" fill="none" stroke-width="1.45"/>
<circle cx="408" cy="358.5" r="2.2" fill="none" stroke-width="1.45"/>
<circle cx="405.5" cy="361" r="2.2" fill="none" stroke-width="1.45"/>
<circle cx="407.5" cy="362.5" r="2.2" fill="none" stroke-width="1.45"/>
<line x1="398.9" y1="342.8" x2="415.7" y2="342.8" stroke-width="2.6"/>
<circle cx="429.1" cy="267.4" r="3.0" fill="#000" stroke="none"/>
<circle cx="431.6" cy="266.6" r="3.0" fill="#000" stroke="none"/>
<circle cx="429.1" cy="289.8" r="3.0" fill="#000" stroke="none"/>
<circle cx="431.6" cy="293.1" r="3.0" fill="#000" stroke="none"/>
<circle cx="430.7" cy="295.6" r="3.0" fill="#000" stroke="none"/>
<circle cx="432.4" cy="298.9" r="3.0" fill="#000" stroke="none"/>
<circle cx="431.6" cy="301.4" r="3.0" fill="#000" stroke="none"/>
<circle cx="430.7" cy="309.6" r="3.0" fill="#000" stroke="none"/>
<circle cx="431.6" cy="312.1" r="3.0" fill="#000" stroke="none"/>
<circle cx="430.7" cy="314.6" r="3.0" fill="#000" stroke="none"/>
<circle cx="426.6" cy="339.5" r="3.0" fill="#000" stroke="none"/>
<circle cx="429.8" cy="349.7" r="3.0" fill="#000" stroke="none"/>
<circle cx="431.9" cy="348" r="3.0" fill="#000" stroke="none"/>
<line x1="420" y1="299.4" x2="437.4" y2="299.4" stroke-width="2.6"/>
<circle cx="444.8" cy="270.7" r="2.2" fill="#fff" stroke-width="1.4"/>
<circle cx="450.6" cy="276.2" r="2.2" fill="#fff" stroke-width="1.4"/>
<circle cx="445.1" cy="289.8" r="2.2" fill="#fff" stroke-width="1.4"/>
<circle cx="444.8" cy="294.7" r="2.2" fill="#fff" stroke-width="1.4"/>
<circle cx="448.1" cy="297.2" r="2.2" fill="#fff" stroke-width="1.4"/>
<circle cx="442.3" cy="303" r="2.2" fill="#fff" stroke-width="1.4"/>
<circle cx="445.6" cy="305.5" r="2.2" fill="#fff" stroke-width="1.4"/>
<circle cx="448.1" cy="307.6" r="2.2" fill="#fff" stroke-width="1.4"/>
<circle cx="447.7" cy="323.7" r="2.2" fill="#fff" stroke-width="1.4"/>
<circle cx="445.6" cy="325.8" r="2.2" fill="#fff" stroke-width="1.4"/>
<circle cx="445.6" cy="332.2" r="2.2" fill="#fff" stroke-width="1.4"/>
<circle cx="445.6" cy="336.4" r="2.2" fill="#fff" stroke-width="1.4"/>
<circle cx="445.6" cy="345.4" r="2.2" fill="#fff" stroke-width="1.4"/>
<line x1="439.8" y1="299.4" x2="455.6" y2="299.4" stroke-width="2.6"/>
<circle cx="472.5" cy="311" r="3.0" fill="#000" stroke="none"/>
<circle cx="481" cy="321.7" r="3.0" fill="#000" stroke="none"/>
<circle cx="476.6" cy="328.1" r="3.0" fill="#000" stroke="none"/>
<circle cx="476.6" cy="336.5" r="3.0" fill="#000" stroke="none"/>
<circle cx="480.1" cy="340" r="3.0" fill="#000" stroke="none"/>
<circle cx="481" cy="342.7" r="3.0" fill="#000" stroke="none"/>
<circle cx="474.8" cy="344.5" r="3.0" fill="#000" stroke="none"/>
<circle cx="476.6" cy="348" r="3.0" fill="#000" stroke="none"/>
<circle cx="472.1" cy="349.8" r="3.0" fill="#000" stroke="none"/>
<circle cx="473" cy="353.4" r="3.0" fill="#000" stroke="none"/>
<circle cx="481" cy="360.5" r="3.0" fill="#000" stroke="none"/>
<circle cx="484.2" cy="362.6" r="3.0" fill="#000" stroke="none"/>
<line x1="469.4" y1="342.3" x2="486" y2="342.3" stroke-width="2.6"/>
<circle cx="500.6" cy="327" r="2.2" fill="#fff" stroke-width="1.4"/>
<circle cx="496.7" cy="333.8" r="2.2" fill="#fff" stroke-width="1.4"/>
<circle cx="504.5" cy="337.4" r="2.2" fill="#fff" stroke-width="1.4"/>
<circle cx="500.6" cy="341.8" r="2.2" fill="#fff" stroke-width="1.4"/>
<circle cx="500.6" cy="346.3" r="2.2" fill="#fff" stroke-width="1.4"/>
<circle cx="504.1" cy="348.9" r="2.2" fill="#fff" stroke-width="1.4"/>
<circle cx="508.6" cy="351.6" r="2.2" fill="#fff" stroke-width="1.4"/>
<circle cx="500.6" cy="352.5" r="2.2" fill="#fff" stroke-width="1.4"/>
<circle cx="500.6" cy="358.7" r="2.2" fill="#fff" stroke-width="1.4"/>
<circle cx="504.5" cy="358.7" r="2.2" fill="#fff" stroke-width="1.4"/>
<circle cx="500.6" cy="363.7" r="2.2" fill="#fff" stroke-width="1.4"/>
<circle cx="504.5" cy="363.7" r="2.2" fill="#fff" stroke-width="1.4"/>
<line x1="491.7" y1="346.6" x2="510.4" y2="346.6" stroke-width="2.6"/>
</g>
<text transform="translate(12.5,189.3) rotate(-90)" font-size="15" font-weight="bold" text-anchor="middle" textLength="135.4" lengthAdjust="spacingAndGlyphs">% T-Cell Apoptosis</text>
<text transform="translate(279.2,181.2) rotate(-90)" font-size="15" font-weight="bold" text-anchor="middle" textLength="115.6" lengthAdjust="spacingAndGlyphs">% CD69<tspan font-size="10" dy="-5">+</tspan><tspan dy="5"> T Cells</tspan></text>
</svg>
</body></html>
